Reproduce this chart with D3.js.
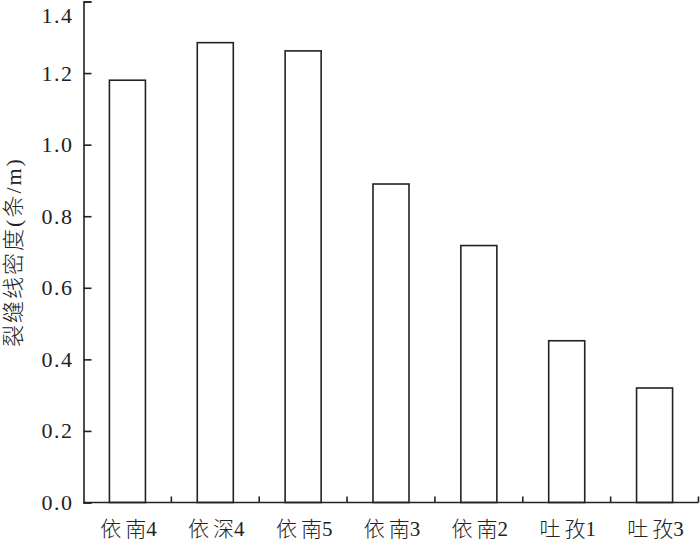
<!DOCTYPE html>
<html>
<head>
<meta charset="utf-8">
<script src="https://cdn.jsdelivr.net/npm/d3@7"></script>
<style>
  body { margin: 0; background: #fff; }
  svg text { font-family: "Liberation Serif", "Noto Sans CJK SC", serif; fill: #222; }
</style>
</head>
<body>
<svg></svg>
<script>
// Data
let wells = ["依南4", "依深4", "依南5", "依南3", "依南2", "吐孜1", "吐孜3"];
let density = [1.18, 1.285, 1.262, 0.89, 0.718, 0.452, 0.32];
let yTicks = [0.0, 0.2, 0.4, 0.6, 0.8, 1.0, 1.2, 1.4];

let width = 700;
let height = 541;
let plotLeft = 83.5;
let plotRight = 698.5;
let plotTop = 1.5;
let plotBottom = 502.5;

let svg = d3.select("svg").attr("width", width).attr("height", height);

let xScale = d3.scaleBand().domain(wells).range([plotLeft, plotRight]).padding(0);
let yScale = d3.scaleLinear().domain([0, 1.4]).range([plotBottom, plotTop]);

let barWidth = xScale.bandwidth() * 0.41;

// Bars
svg
  .selectAll("rect.bar")
  .data(wells)
  .enter()
  .append("rect")
  .attr("class", "bar")
  .attr("x", (d) => xScale(d) + (xScale.bandwidth() - barWidth) / 2)
  .attr("y", (d, i) => yScale(density[i]))
  .attr("width", barWidth)
  .attr("height", (d, i) => plotBottom - yScale(density[i]))
  .attr("fill", "white")
  .attr("stroke", "#222")
  .attr("stroke-width", 1.6);

// Y axis, ticks inward
let yAxis = d3
  .axisRight(yScale)
  .tickValues(yTicks)
  .tickSize(8)
  .tickFormat(d3.format(".1f"));

let yg = svg.append("g").attr("transform", `translate(${plotLeft}, 0)`).call(yAxis);
yg.select(".domain").attr("stroke", "#222").attr("stroke-width", 1.6);
yg.selectAll(".tick line").attr("stroke", "#222").attr("stroke-width", 1.6);
yg.selectAll(".tick text")
  .attr("x", -10)
  .attr("text-anchor", "end")
  .attr("dy", (d) => (d === 1.4 ? "0.95em" : "0.32em"))
  .style("font-size", "22px")
  .style("letter-spacing", "1.5px")
  .style("fill", "#222");

// X axis: baseline with small upward ticks at category boundaries
let boundaries = wells.map((d) => xScale(d) + xScale.bandwidth());
svg
  .append("line")
  .attr("x1", plotLeft)
  .attr("x2", plotRight)
  .attr("y1", plotBottom)
  .attr("y2", plotBottom)
  .attr("stroke", "#222")
  .attr("stroke-width", 1.6);

svg
  .selectAll("line.xtick")
  .data(boundaries)
  .enter()
  .append("line")
  .attr("class", "xtick")
  .attr("x1", (d) => d)
  .attr("x2", (d) => d)
  .attr("y1", plotBottom)
  .attr("y2", plotBottom - 6)
  .attr("stroke", "#222")
  .attr("stroke-width", 1.6);

// category labels: small gap after the first character only
let xLabels = svg
  .selectAll("text.xlabel")
  .data(wells)
  .enter()
  .append("text")
  .attr("class", "xlabel")
  .attr("x", (d) => xScale(d) + xScale.bandwidth() / 2 + 1)
  .attr("y", 536)
  .attr("text-anchor", "middle")
  .style("font-size", "21px")
  .style("font-weight", 300);
xLabels.append("tspan").style("letter-spacing", "4px").text((d) => d.slice(0, 1));
xLabels.append("tspan").text((d) => d.slice(1));

// Y axis title
svg
  .append("text")
  .attr("transform", "translate(21, 252) rotate(-90)")
  .attr("text-anchor", "middle")
  .style("font-size", "22px")
  .style("font-weight", 300)
  .style("letter-spacing", "2px")
  .text("裂缝线密度(条/m)");
</script>
</body>
</html>
